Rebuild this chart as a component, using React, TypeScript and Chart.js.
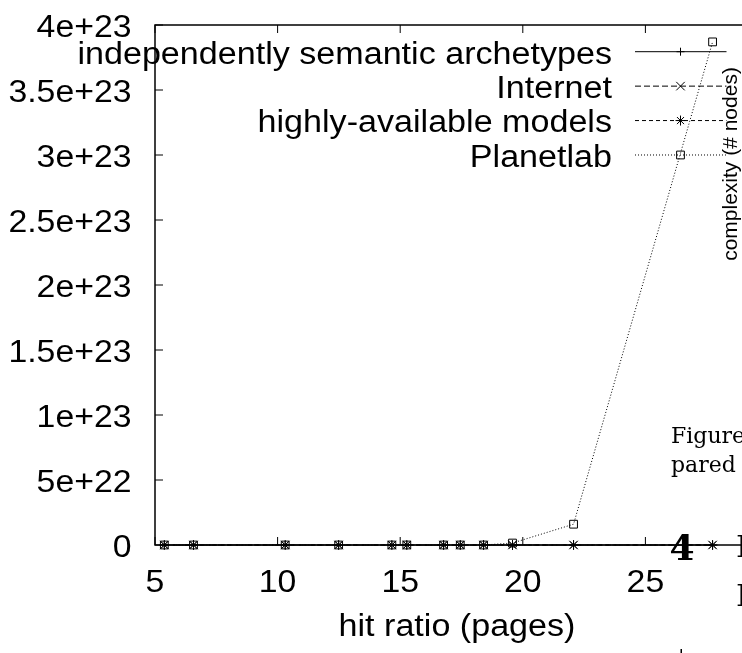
import React, { useEffect, useRef } from 'react';
import { Chart, registerables } from 'chart.js';

Chart.register(...registerables);

// ---- data ----
const hitRatio = [5.38, 6.57, 10.31, 12.49, 14.66, 15.27, 16.77, 17.45, 18.4, 19.58, 22.07, 27.74];
const archetypes = [0, 0, 0, 0, 0, 0, 0, 0, 0, 0, 0, 0];
const internet = [0, 0, 0, 0, 0, 0, 0, 0, 0, 0, 0, 0];
const models = [0, 0, 0, 0, 0, 0, 0, 0, 0, 0, 0, 0];
const planetlab = [0, 0, 0, 0, 0, 0, 0, 0, 0, 1.5e21, 1.6e22, 3.87e23];
const seriesNames = ['independently semantic archetypes', 'Internet', 'highly-available models', 'Planetlab'];
const xTicks = [5, 10, 15, 20, 25, 30];
const yTicks = [0, 5e22, 1e23, 1.5e23, 2e23, 2.5e23, 3e23, 3.5e23, 4e23];
const xTitle = 'hit ratio (pages)';
const yTitle = 'complexity (# nodes)';

const SANS = '"Liberation Sans", Arial, Helvetica, sans-serif';
const SERIF = '"DejaVu Serif", "Liberation Serif", serif';
const FONT_PX = 31;
const STRETCH = 1.09;

function fmtSci(v: number): string {
  if (v === 0) return '0';
  const e = Math.floor(Math.log10(Math.abs(v)) + 1e-9);
  const m = Number((v / Math.pow(10, e)).toPrecision(3));
  return `${m}e+${e}`;
}

function stretchedText(ctx: CanvasRenderingContext2D, text: string, x: number, y: number, align: CanvasTextAlign, stretch = STRETCH) {
  ctx.save();
  ctx.font = `${FONT_PX}px ${SANS}`;
  ctx.fillStyle = '#000';
  ctx.textAlign = align;
  ctx.textBaseline = 'alphabetic';
  ctx.translate(x, y);
  ctx.scale(stretch, 1);
  ctx.fillText(text, 0, 0);
  ctx.restore();
}

function drawMarker(ctx: CanvasRenderingContext2D, style: string, x: number, y: number, r: number) {
  ctx.beginPath();
  if (style === 'cross') {
    ctx.moveTo(x - r, y); ctx.lineTo(x + r, y);
    ctx.moveTo(x, y - r); ctx.lineTo(x, y + r);
  } else if (style === 'crossRot') {
    const d = r * Math.SQRT1_2;
    ctx.moveTo(x - d, y - d); ctx.lineTo(x + d, y + d);
    ctx.moveTo(x - d, y + d); ctx.lineTo(x + d, y - d);
  } else if (style === 'star') {
    const d = r * Math.SQRT1_2;
    ctx.moveTo(x - r, y); ctx.lineTo(x + r, y);
    ctx.moveTo(x, y - r); ctx.lineTo(x, y + r);
    ctx.moveTo(x - d, y - d); ctx.lineTo(x + d, y + d);
    ctx.moveTo(x - d, y + d); ctx.lineTo(x + d, y - d);
  } else {
    const s = r * Math.SQRT1_2;
    ctx.rect(x - s, y - s, 2 * s, 2 * s);
  }
  ctx.stroke();
}

const framePlugin = {
  id: 'gnuFrame',
  afterDatasetsDraw(chart: any) {
    const { ctx, chartArea: a, scales } = chart;
    ctx.save();
    ctx.strokeStyle = '#000';
    ctx.lineWidth = 1.5;
    ctx.setLineDash([]);
    ctx.strokeRect(a.left, a.top, a.right - a.left, a.bottom - a.top);
    ctx.lineWidth = 1;
    const tl = 8;
    for (const v of xTicks) {
      const px = scales.x.getPixelForValue(v);
      ctx.beginPath();
      ctx.moveTo(px, a.bottom); ctx.lineTo(px, a.bottom - tl);
      ctx.moveTo(px, a.top); ctx.lineTo(px, a.top + tl);
      ctx.stroke();
      stretchedText(ctx, String(v), px, 592, 'center');
    }
    for (const v of yTicks) {
      const py = scales.y.getPixelForValue(v);
      ctx.beginPath();
      ctx.moveTo(a.left, py); ctx.lineTo(a.left + tl, py);
      ctx.stroke();
      stretchedText(ctx, fmtSci(v), 131.5, py + 11.5, 'right');
    }
    stretchedText(ctx, xTitle, (a.left + a.right) / 2 - 4.5, 636, 'center', 1.1);
    ctx.restore();
  },
};

const overlayPlugin = {
  id: 'gnuOverlay',
  afterDraw(chart: any) {
    const { ctx } = chart;
    ctx.save();
    // legend (gnuplot style)
    const ds = chart.data.datasets;
    ds.forEach((d: any, i: number) => {
      const y = 51.7 + i * 34.43;
      stretchedText(ctx, d.label, 612, y + 11.8, 'right', 1.1);
      ctx.strokeStyle = '#000';
      ctx.lineWidth = 1;
      ctx.setLineDash(d.borderDash || []);
      ctx.beginPath();
      ctx.moveTo(635, y); ctx.lineTo(726.5, y);
      ctx.stroke();
      ctx.setLineDash([]);
      drawMarker(ctx, d.pointStyle, 680.5, y, d.pointRadius);
    });
    // rotated label
    ctx.save();
    ctx.translate(731.5, 164);
    ctx.rotate(-Math.PI / 2);
    ctx.font = `21px ${SANS}`;
    ctx.textAlign = 'center';
    ctx.textBaseline = 'middle';
    ctx.fillStyle = '#000';
    ctx.fillText(yTitle, 0, 0);
    ctx.restore();
    // stray document text
    ctx.fillStyle = '#000';
    ctx.textAlign = 'left';
    ctx.textBaseline = 'alphabetic';
    ctx.font = `22px ${SERIF}`;
    ctx.fillText('Figure 4:', 671, 443);
    ctx.fillText('pared with', 671, 472);
    ctx.font = `bold 36px ${SERIF}`;
    ctx.textAlign = 'center';
    ctx.fillText('4', 682, 560);
    ctx.font = `30px ${SERIF}`;
    ctx.textAlign = 'left';
    ctx.fillText('E', 736, 557);
    ctx.fillText('E', 736, 606);
    ctx.fillRect(680.5, 649, 1.5, 4);
    ctx.restore();
  },
};

export default function App() {
  const ref = useRef<HTMLCanvasElement | null>(null);
  useEffect(() => {
    if (!ref.current) return;
    const mk = (label: string, vals: number[], style: string, dash: number[], r: number) => ({
      label,
      data: hitRatio.map((x, i) => ({ x, y: vals[i] })),
      borderColor: '#000',
      borderWidth: 1,
      borderDash: dash,
      pointStyle: style,
      pointRadius: r,
      pointBorderColor: '#000',
      pointBackgroundColor: 'rgba(0,0,0,0)',
      pointBorderWidth: 1,
      fill: false,
      tension: 0,
      clip: false,
    });
    const zeroPad = (s: any) => {
      s.paddingTop = 0; s.paddingBottom = 0; s.paddingLeft = 0; s.paddingRight = 0;
    };
    const chart = new Chart(ref.current, {
      type: 'line',
      data: {
        datasets: [
          mk(seriesNames[0], archetypes, 'cross', [], 4),
          mk(seriesNames[1], internet, 'crossRot', [6, 3], 6),
          mk(seriesNames[2], models, 'star', [4, 3], 5),
          mk(seriesNames[3], planetlab, 'rect', [1, 2], 5.5),
        ] as any,
      },
      options: {
        animation: false,
        responsive: false,
        devicePixelRatio: 1,
        layout: { padding: { top: 25, right: 32, left: 0, bottom: 0 } },
        plugins: { legend: { display: false }, tooltip: { enabled: false } },
        scales: {
          x: {
            type: 'linear',
            min: 5,
            max: 30,
            afterBuildTicks: (s: any) => { s.ticks = xTicks.map((v) => ({ value: v })); },
            afterFit: (s: any) => { s.height = 108; zeroPad(s); },
            grid: { display: false, drawTicks: false },
            border: { display: false },
            ticks: { display: false },
            title: { display: false },
          },
          y: {
            type: 'linear',
            min: 0,
            max: 4e23,
            afterBuildTicks: (s: any) => { s.ticks = yTicks.map((v) => ({ value: v })); },
            afterFit: (s: any) => { s.width = 155; zeroPad(s); },
            grid: { display: false, drawTicks: false },
            border: { display: false },
            ticks: { display: false },
          },
        },
      } as any,
      plugins: [framePlugin, overlayPlugin],
    });
    return () => chart.destroy();
  }, []);
  return (
    <div style={{ position: 'fixed', left: 0, top: 0, width: 742, height: 653, overflow: 'hidden', background: '#fff' }}>
      <canvas ref={ref} width={800} height={653} style={{ width: 800, height: 653, display: 'block' }} />
    </div>
  );
}
